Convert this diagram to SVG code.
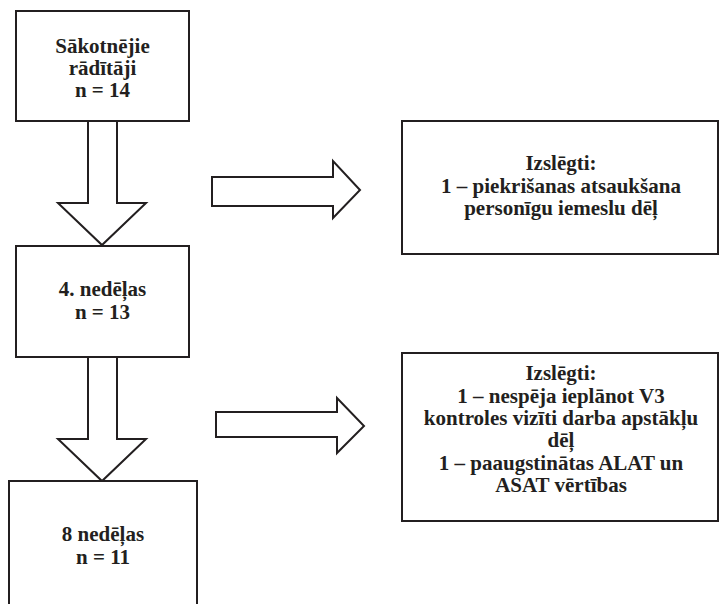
<svg xmlns="http://www.w3.org/2000/svg" width="719" height="604" viewBox="0 0 719 604">
<style>
.box{fill:#fff;stroke:#231f20;stroke-width:2}
.arr{fill:#fff;stroke:#231f20;stroke-width:2;stroke-linejoin:miter}
text{font-family:"Liberation Serif","Times New Roman",serif;font-weight:bold;font-size:21px;fill:#231f20;text-anchor:middle}
</style>
<rect width="719" height="604" fill="#fff"/>
<g id="connectors">
<path class="arr" d="M88,121 V203 H58 L102,245 L146,203 H117 V121"/>
<path class="arr" d="M88,357 V439 H58 L102,481 L146,439 H117 V357"/>
<path class="arr" d="M212,177 H333 V161 L360,190 L333,218 V206 H212 Z"/>
<path class="arr" d="M216,412 H337 V398 L364,426 L337,453 V437 H216 Z"/>
</g>
<g id="baseline">
<rect class="box" x="16" y="11" width="173" height="110"/>
<text x="102.5" y="53">Sākotnējie</text>
<text x="102.5" y="75">rādītāji</text>
<text x="102.5" y="97">n = 14</text>
</g>
<g id="week4">
<rect class="box" x="16" y="246" width="173" height="111"/>
<text x="102.5" y="296">4. nedēļas</text>
<text x="102.5" y="319">n = 13</text>
</g>
<g id="week8">
<rect class="box" x="9" y="481" width="188" height="140"/>
<text x="103" y="541">8 nedēļas</text>
<text x="103" y="564">n = 11</text>
</g>
<g id="excluded1">
<rect class="box" x="402" y="121" width="316" height="133"/>
<text x="561" y="170">Izslēgti:</text>
<text x="561" y="193">1 – piekrišanas atsaukšana</text>
<text x="561" y="215">personīgu iemeslu dēļ</text>
</g>
<g id="excluded2">
<rect class="box" x="402" y="353" width="316" height="168"/>
<text x="561" y="380">Izslēgti:</text>
<text x="561" y="403">1 – nespēja ieplānot V3</text>
<text x="561" y="425">kontroles vizīti darba apstākļu</text>
<text x="561" y="447">dēļ</text>
<text x="561" y="470">1 – paaugstinātas ALAT un</text>
<text x="561" y="492">ASAT vērtības</text>
</g>
</svg>
